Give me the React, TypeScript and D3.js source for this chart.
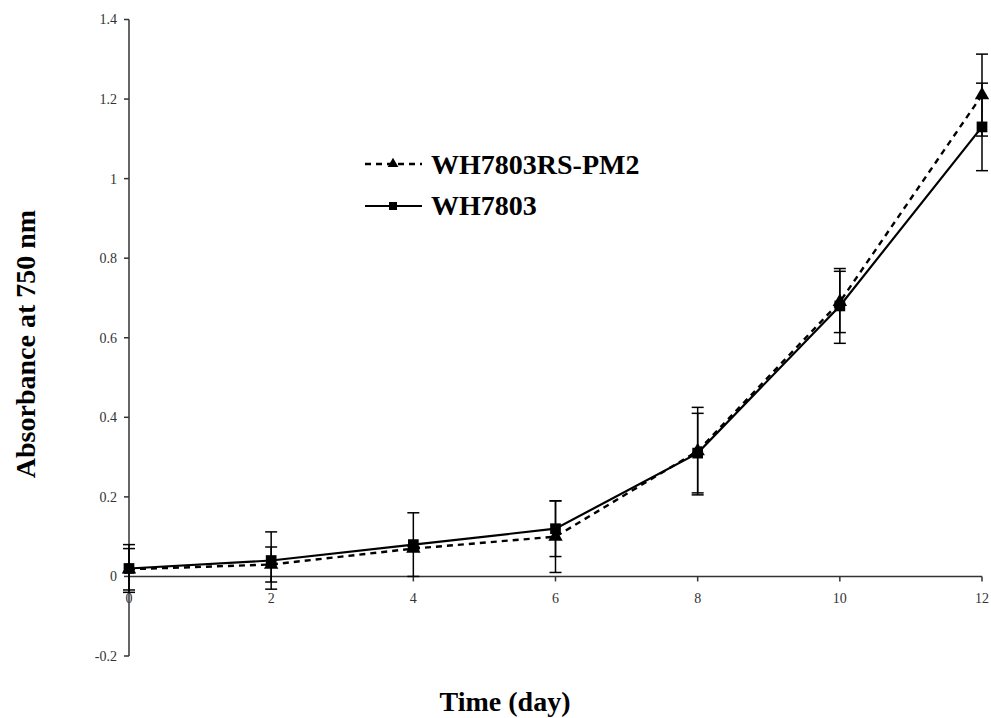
import React from "react";
import * as d3 from "d3";

const days = [0, 2, 4, 6, 8, 10, 12];
const pm2Values = [0.018, 0.03, 0.07, 0.1, 0.315, 0.69, 1.21];
const pm2Errors = [0.052, 0.044, 0.005, 0.09, 0.11, 0.077, 0.103];
const wtValues = [0.02, 0.04, 0.08, 0.12, 0.31, 0.68, 1.13];
const wtErrors = [0.06, 0.072, 0.08, 0.07, 0.1, 0.094, 0.11];
const yTickValues = [-0.2, 0, 0.2, 0.4, 0.6, 0.8, 1, 1.2, 1.4];
const yTickLabels = ["-0.2", "0", "0.2", "0.4", "0.6", "0.8", "1", "1.2", "1.4"];
const xTickValues = [0, 2, 4, 6, 8, 10, 12];
const xTickLabels = ["0", "2", "4", "6", "8", "10", "12"];
const seriesNames = ["WH7803RS-PM2", "WH7803"];

const W = 991;
const H = 718;
const serif = "'Times New Roman', 'Liberation Serif', serif";

export default function App() {
  const x = d3.scaleLinear().domain([0, 12]).range([129, 982]);
  const y = d3.scaleLinear().domain([-0.2, 1.4]).range([656, 19.5]);
  const line = d3
    .line<[number, number]>()
    .x((d) => x(d[0]))
    .y((d) => y(d[1]));
  const pm2Pts: [number, number][] = days.map((d, i) => [d, pm2Values[i]]);
  const wtPts: [number, number][] = days.map((d, i) => [d, wtValues[i]]);
  const tri = d3.symbol().type(d3.symbolTriangle).size(90)() as string;
  const sq = d3.symbol().type(d3.symbolSquare).size(115)() as string;
  const triSmall = d3.symbol().type(d3.symbolTriangle).size(50)() as string;
  const sqSmall = d3.symbol().type(d3.symbolSquare).size(64)() as string;
  const axisColor = "#333";
  const capHalf = 6;

  const errBars = (vals: number[], errs: number[], key: string) =>
    days.map((d, i) => {
      const cx = x(d);
      const y1 = y(vals[i] + errs[i]);
      const y2 = y(vals[i] - errs[i]);
      return (
        <g key={key + i} stroke="#000" strokeWidth={1.5}>
          <line x1={cx} x2={cx} y1={y1} y2={y2} />
          <line x1={cx - capHalf} x2={cx + capHalf} y1={y1} y2={y1} />
          <line x1={cx - capHalf} x2={cx + capHalf} y1={y2} y2={y2} />
        </g>
      );
    });

  return (
    <svg
      width={W}
      height={H}
      style={{ position: "absolute", left: 0, top: 0, background: "#fff" }}
    >
      {/* y axis */}
      <line x1={x(0)} x2={x(0)} y1={y(-0.2)} y2={y(1.4)} stroke={axisColor} strokeWidth={1.5} />
      {yTickValues.map((v, i) => (
        <g key={"yt" + i}>
          <line x1={x(0) - 5} x2={x(0)} y1={y(v)} y2={y(v)} stroke={axisColor} strokeWidth={1.5} />
          <text
            x={x(0) - 12}
            y={y(v)}
            dy="0.35em"
            textAnchor="end"
            fontFamily={serif}
            fontSize={14}
            fill="#333"
          >
            {yTickLabels[i]}
          </text>
        </g>
      ))}
      {/* x axis */}
      <line x1={x(0)} x2={x(12)} y1={y(0)} y2={y(0)} stroke={axisColor} strokeWidth={1.5} />
      {xTickValues.map((v, i) => (
        <g key={"xt" + i}>
          <line x1={x(v)} x2={x(v)} y1={y(0)} y2={y(0) + 5} stroke={axisColor} strokeWidth={1.5} />
          <text
            x={x(v)}
            y={y(0) + 27}
            textAnchor="middle"
            fontFamily={serif}
            fontSize={14}
            fill="#333"
          >
            {xTickLabels[i]}
          </text>
        </g>
      ))}

      {/* error bars */}
      {errBars(pm2Values, pm2Errors, "pe")}
      {errBars(wtValues, wtErrors, "we")}

      {/* lines */}
      <path d={line(pm2Pts) as string} fill="none" stroke="#000" strokeWidth={2.4} strokeDasharray="6,5" />
      <path d={line(wtPts) as string} fill="none" stroke="#000" strokeWidth={2.2} />

      {/* markers */}
      {pm2Pts.map((p, i) => (
        <path key={"pm" + i} d={tri} transform={`translate(${x(p[0])},${y(p[1])})`} fill="#000" />
      ))}
      {wtPts.map((p, i) => (
        <path key={"wm" + i} d={sq} transform={`translate(${x(p[0])},${y(p[1])})`} fill="#000" />
      ))}

      {/* legend */}
      <g>
        <line x1={365} x2={422} y1={164} y2={164} stroke="#000" strokeWidth={2.4} strokeDasharray="6,5" />
        <path d={triSmall} transform="translate(393,164)" fill="#000" />
        <text x={431} y={174} fontFamily={serif} fontWeight="bold" fontSize={28} fill="#000">
          {seriesNames[0]}
        </text>
        <line x1={365} x2={422} y1={206} y2={206} stroke="#000" strokeWidth={2.2} />
        <path d={sqSmall} transform="translate(393,206)" fill="#000" />
        <text x={431} y={215} fontFamily={serif} fontWeight="bold" fontSize={28} fill="#000">
          {seriesNames[1]}
        </text>
      </g>

      {/* axis titles */}
      <text
        x={505}
        y={711}
        textAnchor="middle"
        fontFamily={serif}
        fontWeight="bold"
        fontSize={28}
        fill="#000"
      >
        Time (day)
      </text>
      <text
        transform={`translate(35,344) rotate(-90)`}
        textAnchor="middle"
        fontFamily={serif}
        fontWeight="bold"
        fontSize={28}
        fill="#000"
      >
        Absorbance at 750 nm
      </text>
    </svg>
  );
}
